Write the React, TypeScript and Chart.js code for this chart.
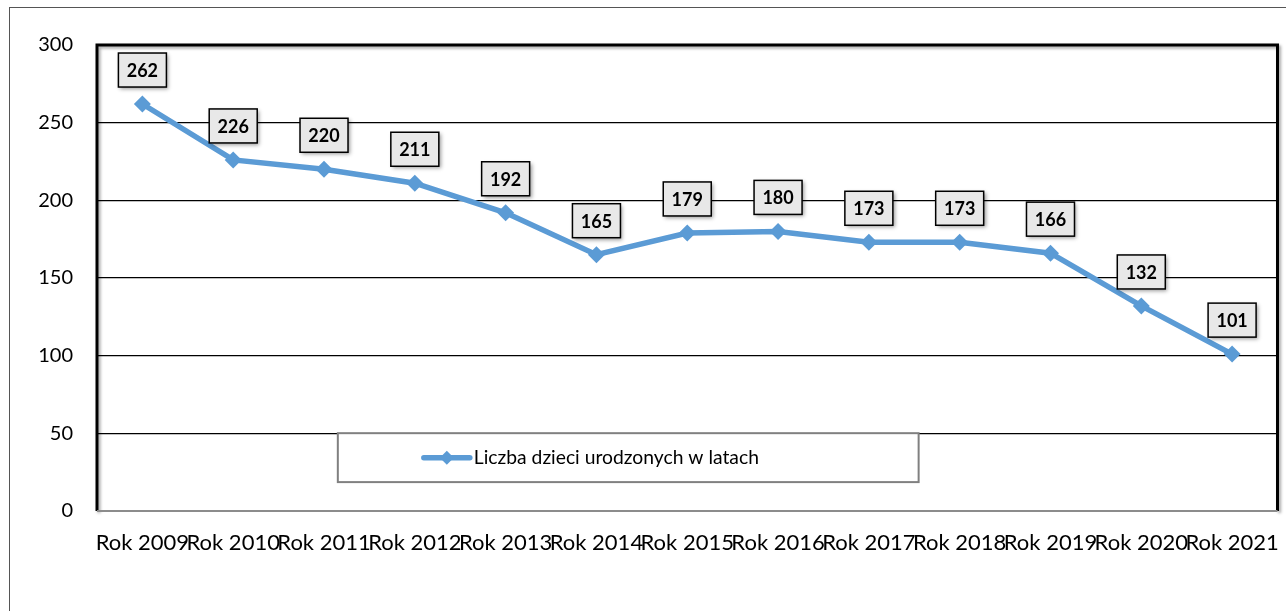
import React, { useEffect, useRef } from "react";
import { Chart, registerables } from "chart.js";

Chart.register(...registerables);

const categories = [
  "Rok 2009", "Rok 2010", "Rok 2011", "Rok 2012", "Rok 2013", "Rok 2014", "Rok 2015",
  "Rok 2016", "Rok 2017", "Rok 2018", "Rok 2019", "Rok 2020", "Rok 2021",
];
const births = [262, 226, 220, 211, 192, 165, 179, 180, 173, 173, 166, 132, 101];
const seriesLabel = "Liczba dzieci urodzonych w latach";
const yMin = 0;
const yMax = 300;
const yStep = 50;

const FONT = "Lato, 'Open Sans', 'DejaVu Sans', sans-serif";
const LINE_COLOR = "#5B9BD5";

const framePlugin = {
  id: "plotFrame",
  beforeDatasetsDraw(chart: any) {
    const { ctx, chartArea: a } = chart;
    ctx.save();
    ctx.shadowColor = "rgba(0,0,0,0.35)";
    ctx.shadowBlur = 3;
    ctx.shadowOffsetX = 2;
    ctx.shadowOffsetY = 2;
    ctx.strokeStyle = "#000";
    ctx.lineWidth = 3;
    ctx.beginPath();
    ctx.moveTo(a.left, a.bottom);
    ctx.lineTo(a.left, a.top);
    ctx.lineTo(a.right, a.top);
    ctx.lineTo(a.right, a.bottom);
    ctx.stroke();
    ctx.shadowColor = "transparent";
    ctx.strokeStyle = "#8c8c8c";
    ctx.lineWidth = 2;
    ctx.beginPath();
    ctx.moveTo(a.left, a.bottom);
    ctx.lineTo(a.right, a.bottom);
    ctx.stroke();
    ctx.restore();
  },
};

const labelPlugin = {
  id: "boxLabels",
  afterDatasetsDraw(chart: any) {
    const meta = chart.getDatasetMeta(0);
    const ctx = chart.ctx;
    ctx.save();
    ctx.font = `bold 18px ${FONT}`;
    meta.data.forEach((pt: any, i: number) => {
      const txt = String(births[i]);
      const w = 48;
      const h = 34;
      const cx = pt.x;
      const cy = pt.y - 34;
      ctx.shadowColor = "rgba(0,0,0,0.4)";
      ctx.shadowBlur = 4;
      ctx.shadowOffsetX = 2;
      ctx.shadowOffsetY = 2;
      ctx.fillStyle = "#e8e8e8";
      ctx.fillRect(cx - w / 2, cy - h / 2, w, h);
      ctx.shadowColor = "transparent";
      ctx.strokeStyle = "#000";
      ctx.lineWidth = 1.5;
      ctx.strokeRect(cx - w / 2, cy - h / 2, w, h);
      ctx.fillStyle = "#000";
      ctx.textAlign = "center";
      ctx.textBaseline = "middle";
      ctx.fillText(txt, cx, cy + 1);
    });
    ctx.restore();
  },
};

const legendPlugin = {
  id: "boxLegend",
  afterDraw(chart: any) {
    const { ctx, chartArea: a } = chart;
    const w = a.right - a.left;
    const h = a.bottom - a.top;
    const left = a.left + 0.204 * w;
    const right = a.left + 0.696 * w;
    const top = a.top + 0.833 * h;
    const bottom = a.top + 0.938 * h;
    ctx.save();
    ctx.fillStyle = "#fff";
    ctx.fillRect(left, top, right - left, bottom - top);
    ctx.strokeStyle = "#808080";
    ctx.lineWidth = 2;
    ctx.strokeRect(left, top, right - left, bottom - top);
    const cy = (top + bottom) / 2;
    const lx0 = left + 86;
    const lx1 = left + 132;
    ctx.strokeStyle = LINE_COLOR;
    ctx.lineWidth = 5.5;
    ctx.lineCap = "round";
    ctx.beginPath();
    ctx.moveTo(lx0, cy);
    ctx.lineTo(lx1, cy);
    ctx.stroke();
    const dx = (lx0 + lx1) / 2;
    ctx.fillStyle = LINE_COLOR;
    ctx.beginPath();
    ctx.moveTo(dx, cy - 7);
    ctx.lineTo(dx + 7, cy);
    ctx.lineTo(dx, cy + 7);
    ctx.lineTo(dx - 7, cy);
    ctx.closePath();
    ctx.fill();
    ctx.fillStyle = "#000";
    ctx.font = `19.3px ${FONT}`;
    ctx.textAlign = "left";
    ctx.textBaseline = "middle";
    ctx.fillText(seriesLabel, lx1 + 4, cy);
    ctx.restore();
  },
};

export default function App() {
  const canvasRef = useRef<HTMLCanvasElement | null>(null);

  useEffect(() => {
    document.body.style.margin = "0";
    const canvas = canvasRef.current;
    if (!canvas) return;
    const chart = new Chart(canvas, {
      type: "line",
      data: {
        labels: categories,
        datasets: [
          {
            label: seriesLabel,
            data: births,
            borderColor: LINE_COLOR,
            backgroundColor: LINE_COLOR,
            borderWidth: 5.5,
            pointStyle: "rectRot",
            pointRadius: 8.5,
            pointBackgroundColor: LINE_COLOR,
            pointBorderColor: LINE_COLOR,
            pointBorderWidth: 0,
            tension: 0,
          },
        ],
      },
      options: {
        responsive: false,
        animation: false,
        layout: { padding: { top: 45, right: 7, left: 0, bottom: 0 } },
        plugins: {
          legend: { display: false },
          tooltip: { enabled: false },
          title: { display: false },
        },
        scales: {
          x: {
            type: "category",
            offset: true,
            grid: { display: false, drawTicks: true, tickLength: 19 },
            border: { display: false },
            ticks: {
              autoSkip: false,
              maxRotation: 0,
              minRotation: 0,
              padding: 0,
              color: "#000",
              font: { family: FONT, size: 22 },
            },
            afterFit: (scale: any) => {
              scale.height = 100;
            },
          },
          y: {
            min: yMin,
            max: yMax,
            ticks: {
              stepSize: yStep,
              padding: 24,
              color: "#000",
              font: { family: FONT, size: 20 },
            },
            grid: {
              drawTicks: false,
              color: (c: any) => (c.tick && c.tick.value === 0 ? "rgba(0,0,0,0)" : "#000"),
              lineWidth: 1.3,
            },
            border: { display: false },
            afterFit: (scale: any) => {
              scale.width = 97;
            },
          },
        },
      },
      plugins: [framePlugin, labelPlugin, legendPlugin],
    });
    return () => chart.destroy();
  }, []);

  return (
    <div style={{ position: "relative", width: 1286, height: 611, overflow: "hidden", background: "#fff" }}>
      <div
        style={{
          position: "absolute",
          left: 9,
          top: 7,
          width: 1290,
          height: 620,
          borderLeft: "1.5px solid #555",
          borderTop: "1.5px solid #555",
        }}
      />
      <canvas
        ref={canvasRef}
        width={1286}
        height={611}
        style={{ position: "absolute", left: 0, top: 0, width: 1286, height: 611 }}
      />
    </div>
  );
}
